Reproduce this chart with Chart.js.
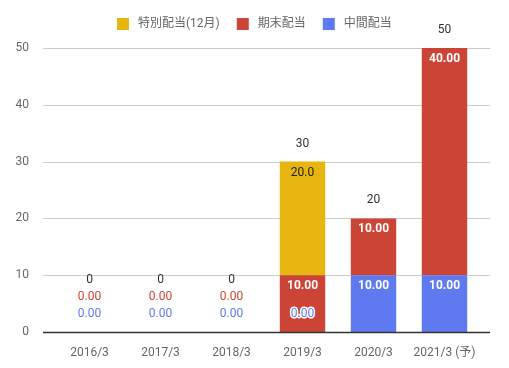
<!DOCTYPE html>
<html>
<head>
<meta charset="utf-8">
<script src="https://cdn.jsdelivr.net/npm/chart.js@4.4.1/dist/chart.umd.min.js"></script>
<style>
  html, body { margin: 0; padding: 0; background: #fff; }
  #wrap { width: 509px; height: 368px; }
</style>
</head>
<body>
<div id="wrap"><canvas id="divChart" width="509" height="368"></canvas></div>
<script>
// chart data
const categories = ['2016/3', '2017/3', '2018/3', '2019/3', '2020/3', '2021/3 (予)'];
const interimDiv = [0, 0, 0, 0, 10, 10];          // 中間配当
const yearEndDiv = [0, 0, 0, 10, 10, 40];         // 期末配当
const specialDiv = [null, null, null, 20, null, null]; // 特別配当(12月)
const yTicks = [0, 10, 20, 30, 40, 50];

const FONT = "Roboto, 'Noto Sans CJK JP', sans-serif";
const BLUE = '#5f7af0';
const RED = '#cc4436';
const YELLOW = '#e6b50f';

// Legend items, drawn by hand so they sit centred on the page
const legendItems = [
    { text: '特別配当(12月)', color: YELLOW },
    { text: '期末配当', color: RED },
    { text: '中間配当', color: BLUE }
];

const gridPlugin = {
    id: 'gridPlugin',
    beforeDatasetsDraw(chart) {
        const ctx = chart.ctx;
        const y = chart.scales.y;
        ctx.save();
        ctx.strokeStyle = '#cccccc';
        ctx.lineWidth = 1;
        yTicks.forEach(t => {
            if (t === 0) return;
            const py = Math.round(y.getPixelForValue(t)) + 0.5;
            ctx.beginPath();
            ctx.moveTo(43, py);
            ctx.lineTo(490, py);
            ctx.stroke();
        });
        ctx.restore();
    },
    afterDatasetsDraw(chart) {
        const ctx = chart.ctx;
        const y = chart.scales.y;
        const py = Math.round(y.getPixelForValue(0)) + 0.5;
        ctx.save();
        ctx.strokeStyle = '#333333';
        ctx.lineWidth = 1.3;
        ctx.beginPath();
        ctx.moveTo(43, py);
        ctx.lineTo(490, py);
        ctx.stroke();
        ctx.restore();
    }
};

const labelPlugin = {
    id: 'labelPlugin',
    afterDatasetsDraw(chart) {
        const ctx = chart.ctx;
        const zeroY = chart.scales.y.getPixelForValue(0);
        ctx.save();
        ctx.textAlign = 'center';
        ctx.textBaseline = 'middle';

        categories.forEach((cat, j) => {
            let lowestLabel = zeroY;
            let topY = zeroY;
            let total = 0;
            let x = 0;
            chart.data.datasets.forEach((ds, i) => {
                const v = ds.data[j];
                if (v === null || v === undefined) return;
                const bar = chart.getDatasetMeta(i).data[j];
                x = bar.x;
                total += v;
                topY = Math.min(topY, bar.y);
                let ly;
                if (v === 0) {
                    // zero segments get stacked labels just above the baseline
                    ly = zeroY - 18 - 17 * i;
                    ctx.font = '12px ' + FONT;
                    ctx.lineWidth = 3;
                    ctx.strokeStyle = '#ffffff';
                    ctx.lineJoin = 'round';
                    ctx.strokeText(v.toFixed(ds.decimals), x, ly);
                    ctx.fillStyle = ds.backgroundColor;
                    ctx.fillText(v.toFixed(ds.decimals), x, ly);
                } else {
                    ly = bar.y + 11;
                    ctx.font = (ds.labelBold ? 'bold ' : '') + '12px ' + FONT;
                    ctx.fillStyle = ds.labelColor;
                    ctx.fillText(v.toFixed(ds.decimals), x, ly);
                }
                lowestLabel = Math.min(lowestLabel, ly);
            });
            // stack total above everything
            const ty = Math.min(topY - 18, lowestLabel - 17);
            ctx.font = '12px ' + FONT;
            ctx.fillStyle = '#333333';
            ctx.fillText(String(total), x, ty);
        });

        // legend
        ctx.font = '12px ' + FONT;
        ctx.textAlign = 'left';
        const box = 12, gapText = 9, gapItem = 17;
        let width = 0;
        legendItems.forEach((it, k) => {
            width += box + gapText + ctx.measureText(it.text).width;
            if (k < legendItems.length - 1) width += gapItem;
        });
        let lx = Math.round(254 - width / 2);
        const ly = 24;
        legendItems.forEach(it => {
            ctx.fillStyle = it.color;
            ctx.fillRect(lx, ly - 6, box, box);
            lx += box + gapText;
            ctx.fillStyle = '#666666';
            ctx.fillText(it.text, lx, ly);
            lx += ctx.measureText(it.text).width + gapItem;
        });
        ctx.restore();
    }
};

new Chart(document.getElementById('divChart').getContext('2d'), {
    type: 'bar',
    data: {
        labels: categories,
        datasets: [
            { label: '中間配当', data: interimDiv, backgroundColor: BLUE, labelColor: '#ffffff', labelBold: true, decimals: 2 },
            { label: '期末配当', data: yearEndDiv, backgroundColor: RED, labelColor: '#ffffff', labelBold: true, decimals: 2 },
            { label: '特別配当(12月)', data: specialDiv, backgroundColor: YELLOW, labelColor: '#222222', labelBold: false, decimals: 1 }
        ]
    },
    options: {
        responsive: false,
        animation: false,
        devicePixelRatio: 1,
        layout: { padding: { top: 48, right: 29, left: 0, bottom: 0 } },
        datasets: { bar: { categoryPercentage: 1, barPercentage: 0.64, borderWidth: 0 } },
        plugins: { legend: { display: false }, tooltip: { enabled: false } },
        scales: {
            x: {
                stacked: true,
                grid: { display: false },
                border: { display: false },
                ticks: { color: '#666666', font: { family: FONT, size: 12 }, padding: 6, maxRotation: 0 },
                afterFit: scale => { scale.height = 36; }
            },
            y: {
                stacked: true,
                min: 0,
                max: 50,
                grid: { display: false },
                border: { display: false },
                ticks: { stepSize: 10, color: '#666666', font: { family: FONT, size: 12 }, padding: 17 },
                afterFit: scale => { scale.width = 54; }
            }
        }
    },
    plugins: [gridPlugin, labelPlugin]
});
</script>
</body>
</html>
